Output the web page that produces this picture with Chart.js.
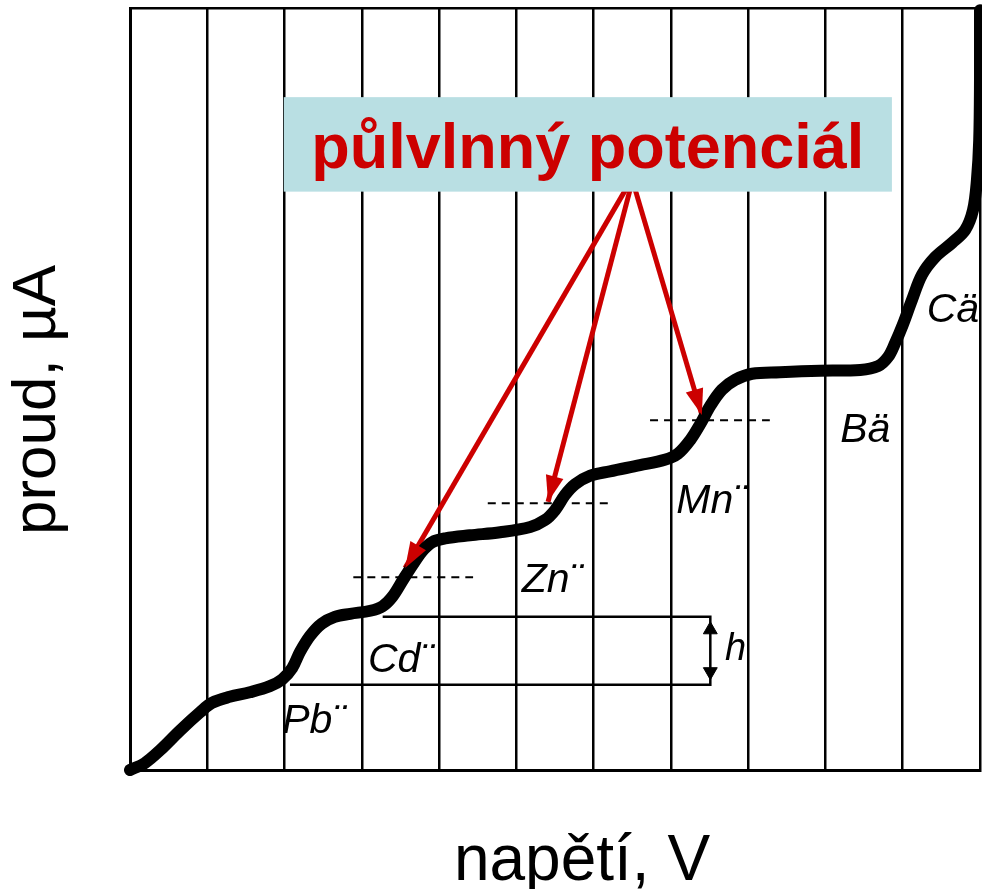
<!DOCTYPE html>
<html lang="cs">
<head>
    <meta charset="UTF-8">
    <script src="https://cdn.jsdelivr.net/npm/chart.js"></script>
    <title>Polarogram</title>
    <style>
        body { margin: 0; background: #fff; }
        .wrap { width: 982px; height: 889px; position: relative; }
    </style>
</head>
<body>
    <div class="wrap">
        <canvas id="polarogram"></canvas>
    </div>

    <script>
        // polarographic curve (x = grid divisions, y = current in % of axis)
        const curveX = [0, 0.19, 0.39, 0.65, 0.91, 1.06, 1.29, 1.55, 1.81, 1.97, 2.10, 2.20, 2.33, 2.48, 2.65, 2.85, 3.11, 3.27, 3.40, 3.53,
                        3.65, 3.78, 3.91, 4.08, 4.40, 4.79, 5.18, 5.37, 5.50, 5.63, 5.76, 5.95, 6.21, 6.60, 6.92, 7.09, 7.25, 7.38, 7.51, 7.66,
                        7.83, 8.05, 8.41, 8.93, 9.45, 9.68, 9.81, 9.90, 10.00, 10.12, 10.25, 10.42, 10.64, 10.81, 10.91, 10.96, 10.99, 11.0, 11.0];
        const curveY = [0, 0.9, 2.6, 5.2, 7.6, 8.8, 9.6, 10.2, 11.0, 11.9, 13.4, 15.5, 17.6, 19.2, 20.1, 20.5, 20.9, 21.5, 22.8, 24.9,
                        26.8, 28.7, 29.9, 30.4, 30.8, 31.2, 31.9, 32.8, 34.1, 36.1, 37.5, 38.6, 39.2, 40.0, 40.7, 41.5, 43.3, 45.4, 47.8, 49.9,
                        51.2, 52.0, 52.2, 52.4, 52.5, 53.0, 54.2, 56.0, 58.4, 61.7, 65.0, 67.3, 69.2, 70.9, 73.5, 77.4, 82.7, 90.6, 99.7];

        // half-wave potentials (dashed marks)
        const halfWaveY = [25.3, 35.0, 45.9];
        const halfWaveFrom = [2.89, 4.63, 6.73];
        const halfWaveTo = [4.44, 6.19, 8.28];

        // red arrows from the caption box to the half-wave points
        const arrowFromX = [6.41, 6.47, 6.54];
        const arrowFromY = [76.1, 76.1, 76.1];
        const arrowToX = [3.56, 5.41, 7.40];
        const arrowToY = [26.5, 35.2, 46.6];

        // wave height bracket h
        const bracketX = [3.27, 7.51, 7.51, 2.07];
        const bracketY = [20.1, 20.1, 11.2, 11.2];
        const bracketTipY = [18.4, 12.9];

        // ion labels
        const ionLabels = ['Pb¨', 'Cd¨', 'Zn¨', 'Mn¨', 'Bä', 'Cä', 'h'];
        const ionX = [1.97, 3.08, 5.07, 7.07, 9.19, 10.31, 7.70];
        const ionY = [4.9, 12.9, 23.4, 33.7, 43.0, 58.8, 14.4];

        const caption = 'půlvlnný potenciál';
        const captionBox = { x0: 1.99, x1: 9.86, y0: 88.3, y1: 75.9 };
        const xTitle = 'napětí, V';
        const yTitle = 'proud, µA';

        const FONT = "'Liberation Sans', Arial, sans-serif";
        const RED = '#cc0000';
        const INK = '#000';

        const pts = (xs, ys) => xs.map((v, i) => ({ x: v, y: ys[i] }));

        const datasets = [{
            data: pts(curveX, curveY),
            borderColor: INK,
            borderWidth: 12,
            tension: 0.35,
            borderCapStyle: 'round',
            borderJoinStyle: 'round',
            pointRadius: 0,
            clip: false
        }];

        halfWaveY.forEach((v, i) => {
            datasets.push({
                data: [{ x: halfWaveFrom[i], y: v }, { x: halfWaveTo[i], y: v }],
                borderColor: INK,
                borderWidth: 2,
                borderDash: [8, 6],
                pointRadius: 0
            });
        });

        datasets.push({
            data: pts(bracketX, bracketY),
            borderColor: INK,
            borderWidth: 2.5,
            pointRadius: 0
        });
        datasets.push({
            data: bracketTipY.map(v => ({ x: bracketX[1], y: v })),
            showLine: false,
            pointStyle: 'triangle',
            pointRadius: 8,
            pointRotation: [0, 180],
            backgroundColor: INK,
            borderColor: INK
        });

        arrowToX.forEach((v, i) => {
            datasets.push({
                data: [{ x: arrowFromX[i], y: arrowFromY[i] }, { x: v, y: arrowToY[i] }],
                borderColor: RED,
                borderWidth: 5,
                pointRadius: 0
            });
        });

        // caption box, arrowheads, ion labels and axis titles
        const overlay = {
            id: 'overlay',
            afterDatasetsDraw(chart) {
                const { ctx, chartArea: area, scales: { x, y } } = chart;
                ctx.save();

                // arrowheads
                ctx.fillStyle = RED;
                arrowToX.forEach((v, i) => {
                    const x1 = x.getPixelForValue(arrowFromX[i]), y1 = y.getPixelForValue(arrowFromY[i]);
                    const x2 = x.getPixelForValue(v), y2 = y.getPixelForValue(arrowToY[i]);
                    const a = Math.atan2(y2 - y1, x2 - x1);
                    const len = 26, half = 9;
                    ctx.beginPath();
                    ctx.moveTo(x2, y2);
                    ctx.lineTo(x2 - len * Math.cos(a) + half * Math.sin(a), y2 - len * Math.sin(a) - half * Math.cos(a));
                    ctx.lineTo(x2 - len * Math.cos(a) - half * Math.sin(a), y2 - len * Math.sin(a) + half * Math.cos(a));
                    ctx.closePath();
                    ctx.fill();
                });

                // caption box
                const bx0 = x.getPixelForValue(captionBox.x0), bx1 = x.getPixelForValue(captionBox.x1);
                const by0 = y.getPixelForValue(captionBox.y0), by1 = y.getPixelForValue(captionBox.y1);
                ctx.fillStyle = '#b9dfe3';
                ctx.fillRect(bx0, by0, bx1 - bx0, by1 - by0);
                ctx.fillStyle = RED;
                ctx.font = 'bold 63px ' + FONT;
                ctx.textAlign = 'center';
                ctx.textBaseline = 'alphabetic';
                ctx.fillText(caption, (bx0 + bx1) / 2, by0 + 71);

                // ion labels
                ctx.fillStyle = INK;
                ctx.textAlign = 'left';
                ionLabels.forEach((t, i) => {
                    ctx.font = (t === 'h' ? 'italic 38px ' : 'italic 41px ') + FONT;
                    ctx.fillText(t, x.getPixelForValue(ionX[i]), y.getPixelForValue(ionY[i]));
                });

                // axis titles
                ctx.textAlign = 'center';
                ctx.font = '64px ' + FONT;
                ctx.fillText(xTitle, area.left + 452, area.bottom + 110);
                ctx.translate(area.left - 75, area.top + 392);
                ctx.rotate(-Math.PI / 2);
                ctx.font = '62px ' + FONT;
                ctx.fillText(yTitle, 0, 0);
                ctx.restore();
            }
        };

        new Chart(document.getElementById('polarogram'), {
            type: 'line',
            data: { datasets },
            options: {
                responsive: true,
                maintainAspectRatio: false,
                animation: false,
                layout: { autoPadding: false, padding: { top: 8, right: 2, left: 130, bottom: 119 } },
                plugins: { legend: { display: false }, tooltip: { enabled: false } },
                scales: {
                    x: {
                        type: 'linear',
                        min: 0,
                        max: 11,
                        ticks: { display: false, stepSize: 1 },
                        grid: { color: INK, lineWidth: 2.5, drawTicks: false },
                        border: { color: INK, width: 3 }
                    },
                    y: {
                        type: 'linear',
                        min: 0,
                        max: 100,
                        ticks: { display: false, stepSize: 100 },
                        grid: {
                            color: c => (c.tick && c.tick.value === 100 ? INK : 'rgba(0,0,0,0)'),
                            lineWidth: 2.5,
                            drawTicks: false
                        },
                        border: { color: INK, width: 3 }
                    }
                }
            },
            plugins: [overlay]
        });
    </script>
</body>
</html>
